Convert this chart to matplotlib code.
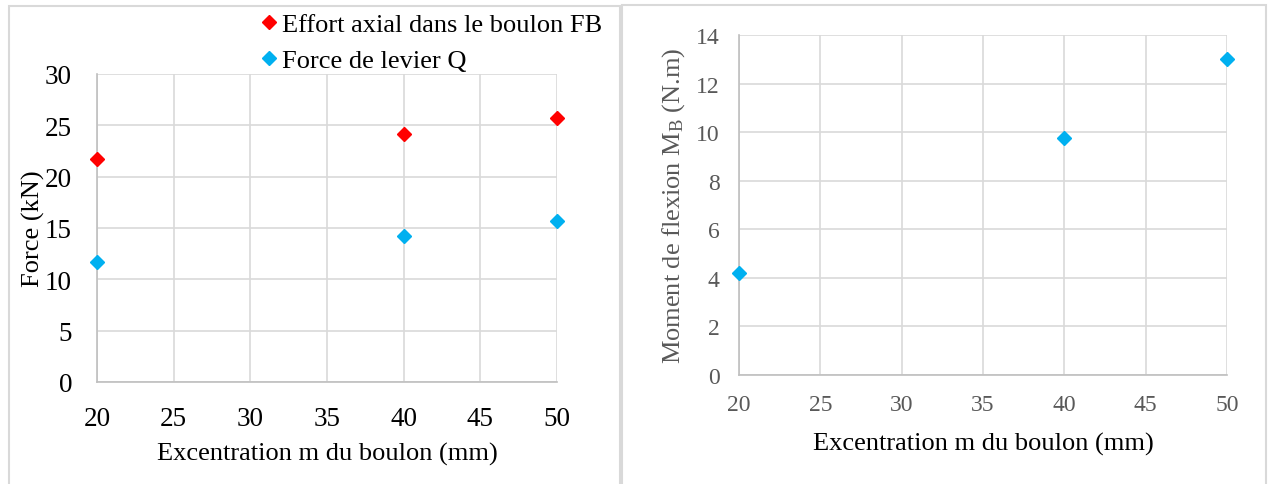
import matplotlib
matplotlib.use("Agg")
import matplotlib.pyplot as plt
from matplotlib.patches import Rectangle

plt.rcParams['font.family'] = ['Liberation Serif', 'DejaVu Serif']
plt.rcParams['mathtext.fontset'] = 'custom'
plt.rcParams['mathtext.rm'] = 'Liberation Serif'
plt.rcParams['mathtext.it'] = 'Liberation Serif:italic'

# Data
excentration = [20, 40, 50]
effort_axial_fb = [21.7, 24.2, 25.7]
force_levier_q = [11.7, 14.2, 15.7]
moment_flexion_mb = [4.2, 9.75, 13.0]

left_xticks = [20, 25, 30, 35, 40, 45, 50]
left_yticks = [0, 5, 10, 15, 20, 25, 30]
right_yticks = [0, 2, 4, 6, 8, 10, 12, 14]

RED = '#FF0000'
BLUE = '#00B0F0'
GRID = '#D9D9D9'
AXIS = '#BFBFBF'

W, H = 1268, 485
fig = plt.figure(figsize=(W / 100, H / 100), dpi=100)

def fx(px):
    return px / W

def fy(py):
    return 1 - py / H

# Panel borders
fig.patches.append(Rectangle((fx(9), fy(500)), fx(620 - 9), (500 - 7) / H,
                             transform=fig.transFigure, fill=False,
                             edgecolor=GRID, linewidth=1.5))
fig.patches.append(Rectangle((fx(622), fy(500)), fx(1266 - 622), (500 - 6) / H,
                             transform=fig.transFigure, fill=False,
                             edgecolor=GRID, linewidth=1.5))

def style_axes(ax):
    for s in ['top', 'right']:
        ax.spines[s].set_visible(False)
    for s in ['left', 'bottom']:
        ax.spines[s].set_color(AXIS)
        ax.spines[s].set_linewidth(1.2)
    ax.grid(True, color=GRID, linewidth=1.2)
    ax.set_axisbelow(True)
    ax.tick_params(length=0)

# Left chart
ax1 = fig.add_axes([fx(97), fy(383), fx(557 - 97), (383 - 75) / H])
style_axes(ax1)
ax1.plot(excentration, effort_axial_fb, linestyle='none', marker='D', ms=7.5,
         color=RED, label='Effort axial dans le boulon FB', clip_on=False, zorder=3)
ax1.plot(excentration, force_levier_q, linestyle='none', marker='D', ms=7.5,
         color=BLUE, label='Force de levier Q', clip_on=False, zorder=3)
ax1.set_xlim(20, 50)
ax1.set_ylim(0, 30)
ax1.set_xticks(left_xticks)
ax1.set_yticks(left_yticks)
ax1.tick_params(axis='both', labelsize=19.5, colors='black')
ax1.tick_params(axis='x', pad=17)
ax1.tick_params(axis='y', pad=18)
ax1.set_xlabel('Excentration m du boulon (mm)', fontsize=19, color='black', labelpad=8)
ax1.set_ylabel('Force (kN)', fontsize=19, color='black', labelpad=0)
ax1.legend(loc='upper left', bbox_to_anchor=(fx(256), fy(14)),
           bbox_transform=fig.transFigure, frameon=False, fontsize=19,
           handletextpad=0.0, handlelength=1.0, labelspacing=0.45,
           borderpad=0, borderaxespad=0)

# Right chart
ax2 = fig.add_axes([fx(739), fy(376), fx(1227 - 739), (376 - 36) / H])
style_axes(ax2)
ax2.plot(excentration, moment_flexion_mb, linestyle='none', marker='D', ms=7.5,
         color=BLUE, clip_on=False, zorder=3)
ax2.set_xlim(20, 50)
ax2.set_ylim(0, 14)
ax2.set_xticks(left_xticks)
ax2.set_yticks(right_yticks)
ax2.tick_params(axis='both', labelsize=17, colors='#595959')
ax2.tick_params(axis='x', pad=14)
ax2.tick_params(axis='y', pad=14)
ax2.set_xlabel('Excentration m du boulon (mm)', fontsize=19, color='black', labelpad=12)
ax2.set_ylabel(r'Moment de flexion M$_\mathregular{B}$ (N.m)', fontsize=19,
               color='#595959', labelpad=6)

fig.savefig('out.png', dpi=100)
